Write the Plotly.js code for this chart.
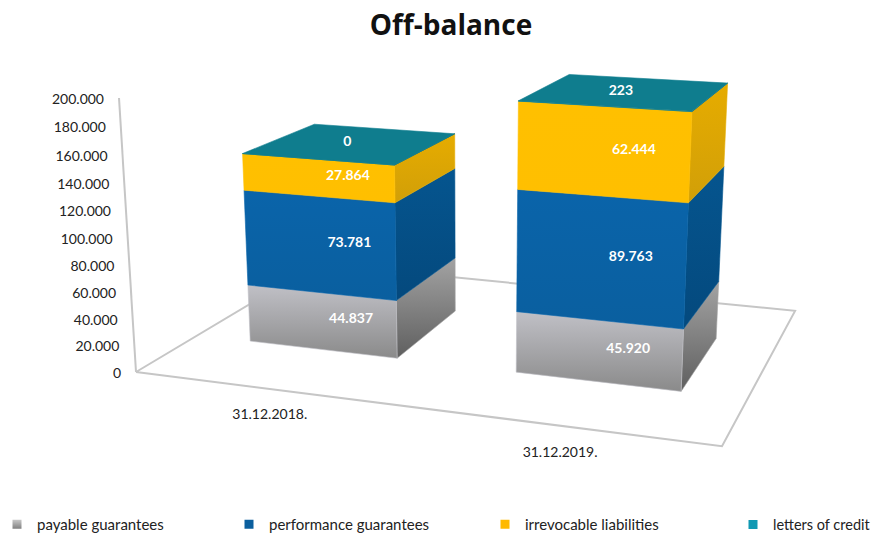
<!DOCTYPE html>
<html><head><meta charset="utf-8">
<script src="https://cdn.plot.ly/plotly-3.0.1.min.js"></script>
<style>html,body{margin:0;padding:0;background:#fff}#c{width:871px;height:536px}</style>
</head><body><div id="c"></div>
<script>
const categories = ['31.12.2018.', '31.12.2019.'];
const seriesNames = ['payable guarantees', 'performance guarantees', 'irrevocable liabilities', 'letters of credit'];
const payable = [44837, 45920];
const performance_ = [73781, 89763];
const irrevocable = [27864, 62444];
const letters = [0, 223];
const tickValues = [0, 20000, 40000, 60000, 80000, 100000, 120000, 140000, 160000, 180000, 200000];
const valueMax = 200000;

const frontFill = [['#8a8a8a', '#c0c0c6'], ['#0a5f9f', '#0a64aa'], ['#ffbf00', '#ffc000'], ['#0f8193', '#0f8193']];
const sideFill = [['#5f5f5f', '#a3a3a3'], ['#04497d', '#05558f'], ['#d19f08', '#e6ac00'], ['#0b6f80', '#0b6f80']];
const topFill = '#0f7d8e';
const legendColors = ['#aaaaaa', '#0b5f9e', '#ffb900', '#1199b3'];
const legendLeft = [-3, 229, 485, 733];
const legendSize = [15, 15, 15, 14.5];

// Perspective camera of the 3D plot box: origin, three vanishing points, unit points
const O = [136, 372];
const vpX = [-4300, -190], vpZ = [1060, -180], vpV = [472, 5787];
const a = (722 - O[0]) / (vpX[0] - 722);
const b = (317 - O[0]) / (vpZ[0] - 317);
const c = (98 - O[1]) / (vpV[1] - 98);
function project(X, Z, v) {
  const V = v / valueMax;
  const w = a * X + b * Z + c * V + 1;
  return [(a * X * vpX[0] + b * Z * vpZ[0] + c * V * vpV[0] + O[0]) / w,
          (a * X * vpX[1] + b * Z * vpZ[1] + c * V * vpV[1] + O[1]) / w];
}
const barCenter = [0.2475, 0.749], barHalf = 0.142, zFront = 0.295, zBack = 0.70;
const catLabelX = [0.305, 0.78];

const fmt = v => String(v).replace(/\B(?=(\d{3})+$)/g, '.');
const traces = [];
function line(pts, color, width) {
  traces.push({type: 'scatter', mode: 'lines', x: pts.map(p => p[0]), y: pts.map(p => p[1]),
    line: {color, width}, showlegend: false, hoverinfo: 'skip'});
}
function poly(pts, grad) {
  const p = pts.concat([pts[0]]);
  traces.push({type: 'scatter', mode: 'lines', x: p.map(q => q[0]), y: p.map(q => q[1]),
    fill: 'toself', line: {width: 0.6, color: grad[1]},
    fillgradient: {type: 'vertical', colorscale: [[0, grad[0]], [1, grad[1]]]},
    showlegend: false, hoverinfo: 'skip'});
}
// floor and value axis
line([project(0, 0, 0), project(1, 0, 0), project(1, 1, 0), project(0, 1, 0), project(0, 0, 0)], '#c6c6c6', 2);
line([project(0, 0, 0), project(0, 0, valueMax)], '#c6c6c6', 2);

const stacks = [payable, performance_, irrevocable, letters];
const lblX = [], lblY = [], lblT = [];
categories.forEach((cat, i) => {
  const x0 = barCenter[i] - barHalf, x1 = barCenter[i] + barHalf;
  let base = 0;
  stacks.forEach((s, k) => {
    const top = base + s[i];
    poly([project(x1, zFront, base), project(x1, zBack, base), project(x1, zBack, top), project(x1, zFront, top)], sideFill[k]);
    poly([project(x0, zFront, base), project(x1, zFront, base), project(x1, zFront, top), project(x0, zFront, top)], frontFill[k]);
    if (k < 3) {
      const p = project(barCenter[i] + 0.045, 0.33, base + s[i] / 2);
      lblX.push(p[0]); lblY.push(p[1]); lblT.push(fmt(s[i]));
    }
    base = top;
  });
  poly([project(x0, zFront, base), project(x1, zFront, base), project(x1, zBack, base), project(x0, zBack, base)], [topFill, topFill]);
  const p = project(barCenter[i] - 0.01, 0.5, base);
  lblX.push(p[0]); lblY.push(p[1]); lblT.push(fmt(letters[i]));
});
traces.push({type: 'scatter', mode: 'text', x: lblX, y: lblY, text: lblT, textposition: 'middle center',
  textfont: {family: 'Lato, sans-serif', size: 14, color: '#ffffff', weight: 700}, showlegend: false, hoverinfo: 'skip', cliponaxis: false});

// value tick labels follow the tilted axis
const tp = tickValues.map(t => project(0, 0, t));
traces.push({type: 'scatter', mode: 'text', x: tp.map(p => p[0] - 15), y: tp.map(p => p[1] + 2),
  text: tickValues.map(fmt), textposition: 'middle left',
  textfont: {family: 'Lato, sans-serif', size: 14, color: '#222222'}, showlegend: false, hoverinfo: 'skip', cliponaxis: false});
// category labels under the floor
const cp = categories.map((t, i) => project(catLabelX[i], -0.15, 0));
traces.push({type: 'scatter', mode: 'text', x: cp.map(p => p[0]), y: cp.map(p => p[1]), text: categories, textposition: 'middle center',
  textfont: {family: 'Lato, sans-serif', size: 14, color: '#222222'}, showlegend: false, hoverinfo: 'skip', cliponaxis: false});

const layoutLegends = {};
seriesNames.forEach((n, k) => {
  const m = {color: legendColors[k], size: 9, symbol: 'square'};
  if (k === 0) { m.color = '#c8c8c8'; m.gradient = {type: 'vertical', color: '#808080'}; }
  const id = k === 0 ? 'legend' : 'legend' + (k + 1);
  traces.push({type: 'scatter', mode: 'markers', x: [null], y: [null], name: n, marker: m, hoverinfo: 'skip', legend: id, showlegend: true});
  layoutLegends[id] = {x: legendLeft[k] / 871, xanchor: 'left', y: 1 - 524.5 / 536, yanchor: 'middle',
    font: {family: 'Lato, sans-serif', size: legendSize[k], color: '#222222'}, bgcolor: 'rgba(0,0,0,0)'};
});

Plotly.newPlot('c', traces, Object.assign({
  width: 871, height: 536, margin: {l: 0, r: 0, t: 0, b: 0, autoexpand: false}, paper_bgcolor: '#fff', plot_bgcolor: '#fff',
  title: {text: '<b>Off-balance</b>', x: 451 / 871, xanchor: 'center', y: 1 - 25 / 536, yanchor: 'middle',
    font: {family: 'Open Sans, sans-serif', size: 28, color: '#111111'}},
  xaxis: {visible: false, range: [0, 871], fixedrange: true},
  yaxis: {visible: false, range: [536, 0], fixedrange: true},
  showlegend: true
}, layoutLegends), {displayModeBar: false, staticPlot: true});
</script></body></html>
